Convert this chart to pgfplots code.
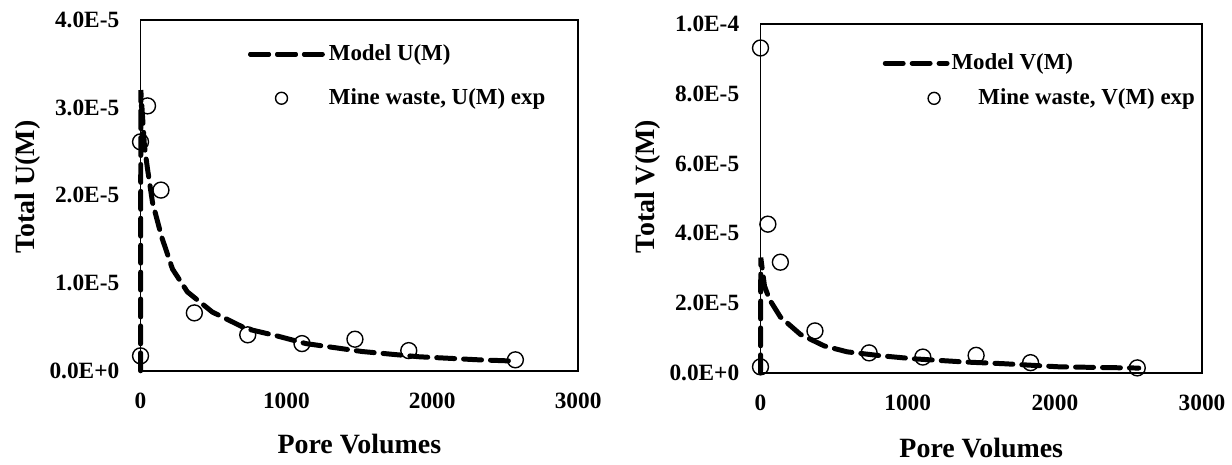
\documentclass[border=0pt]{standalone}
\usepackage{pgfplots}
\pgfplotsset{compat=1.18}
\usepackage{fontspec}
\setmainfont{Liberation Serif}

\begin{document}
\begin{tikzpicture}[x=1pt,y=1pt]
\path (0,0) rectangle (616,231.5);
\pgfplotsset{
  myax/.style={
    scale only axis, xmin=0, xmax=3000, ymin=0,
    axis line style={line width=0.75pt},
    major tick length=0pt,
    xtick={0,1000,2000,3000}, xticklabels={0,1000,2000,3000},
    scaled y ticks=false, scaled x ticks=false,
    tick label style={font=\fontsize{11.7}{12}\selectfont\bfseries},
    xticklabel style={anchor=center, yshift=-15pt},
    yticklabel style={anchor=east, inner sep=0pt, xshift=-10.5pt},
    label style={font=\fontsize{14}{16}\selectfont\bfseries},
    legend style={draw=none, fill=none, font=\fontsize{11.5}{13}\selectfont\bfseries,
      anchor=north west, inner sep=0pt, nodes={inner sep=1pt}, cells={anchor=west}},
    clip=false,
  },
  modelline/.style={black, line width=2.5pt, dash pattern=on 9pt off 4.5pt, line cap=round},
  expmark/.style={only marks, mark=o, mark size=4pt, black, mark options={line width=0.7pt}},
  lineimgA/.style={legend image code/.code={\draw[##1] (0pt,0pt) -- (35pt,0pt); \path (0pt,0pt) -- (37pt,0pt);}},
  markimgA/.style={legend image code/.code={\draw[mark repeat=2,mark phase=2,##1,mark size=3pt] plot coordinates {(0pt,0pt)(15.5pt,0pt)(36pt,0pt)};}},
  lineimgB/.style={legend image code/.code={\draw[##1] (0pt,0pt) -- (31pt,0pt);}},
  markimgB/.style={legend image code/.code={\draw[mark repeat=2,mark phase=2,##1,mark size=3pt] plot coordinates {(0pt,0pt)(24.5pt,0pt)(31pt,0pt)};}},
}
\begin{axis}[myax, anchor=south west, at={(70.5pt,45.5pt)},
  width=219.5pt, height=176pt, ymax=4e-5,
  ytick={0,1e-5,2e-5,3e-5,4e-5},
  yticklabels={0.0E+0,1.0E-5,2.0E-5,3.0E-5,4.0E-5},
  xlabel={Pore Volumes}, ylabel={Total U(M)},
  xlabel style={at={(axis description cs:0.5,-0.21)}, anchor=center},
  ylabel style={at={(axis description cs:-0.257,0.524)}, anchor=center, rotate=0},
  legend style={at={(0.245,0.936)}, row sep=10.6pt},
]
\addplot[modelline, lineimgA] coordinates {
(0,0) (2,3.2e-5) (27,2.56e-5) (48,2.3e-5) (82,1.92e-5) (144,1.53e-5) (219,1.16e-5)
(321,0.9e-5) (492,0.67e-5) (724,0.48e-5) (930,0.40e-5) (1134,3.1e-6) (1517,2.2e-6)
(1907,1.6e-6) (2317,1.25e-6) (2570,1.1e-6)};
\addlegendentry{Model U(M)}
\addplot[expmark, markimgA] coordinates {
(0,1.7e-6) (0,2.61e-5) (48,3.02e-5) (140,2.06e-5) (369,6.6e-6) (735,4.1e-6)
(1107,3.1e-6) (1470,3.6e-6) (1839,2.3e-6) (2570,1.25e-6)};
\addlegendentry{Mine waste, U(M) exp}
\end{axis}

\begin{axis}[myax, anchor=south west, at={(381.5pt,44.5pt)},
  width=221.5pt, height=175pt, ymax=1e-4,
  ytick={0,2e-5,4e-5,6e-5,8e-5,1e-4},
  yticklabels={0.0E+0,2.0E-5,4.0E-5,6.0E-5,8.0E-5,1.0E-4},
  xlabel={Pore Volumes}, ylabel={Total V(M)},
  xlabel style={at={(axis description cs:0.5,-0.215)}, anchor=center},
  ylabel style={at={(axis description cs:-0.255,0.534)}, anchor=center, rotate=0},
  legend style={at={(0.276,0.921)}, row sep=6.1pt},
]
\addplot[modelline, lineimgB] coordinates {
(0,0) (2,3.3e-5) (27,2.49e-5) (61,2.1e-5) (135,1.6e-5) (271,1.1e-5) (433,7.7e-6)
(589,6.0e-6) (812,4.9e-6) (1043,4.0e-6) (1381,3.1e-6) (1652,2.6e-6) (2031,1.7e-6)
(2485,1.4e-6) (2570,1.35e-6)};
\addlegendentry{Model V(M)}
\addplot[expmark, markimgB] coordinates {
(0,1.7e-6) (0,9.31e-5) (50,4.26e-5) (135,3.17e-5) (370,1.2e-5) (738,5.7e-6)
(1103,4.5e-6) (1465,5.0e-6) (1835,2.9e-6) (2560,1.4e-6)};
\addlegendentry{\hspace*{13.5pt}Mine waste, V(M) exp}
\end{axis}
\end{tikzpicture}
\end{document}
